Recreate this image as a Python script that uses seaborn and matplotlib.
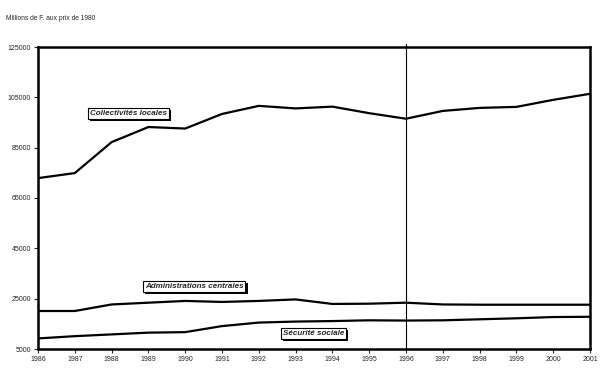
import pandas as pd
import matplotlib
matplotlib.use("Agg")
import matplotlib.pyplot as plt
import matplotlib.patheffects as pe
import seaborn as sns

YEARS = list(range(1986, 2002))
COLLECTIVITES = [72900, 74900, 87200, 93200, 92600, 98400, 101600, 100600,
                 101300, 98700, 96500, 99600, 100800, 101200, 104000, 106400]
ADMINISTRATIONS = [20100, 20100, 22700, 23400, 24100, 23700, 24100, 24700,
                   22900, 23000, 23400, 22700, 22600, 22600, 22600, 22600]
SECURITE = [9200, 10100, 10800, 11500, 11700, 14100, 15500, 15900,
            16100, 16400, 16300, 16400, 16800, 17200, 17700, 17800]
SERIES = ["Collectivités locales", "Administrations centrales", "Sécurité sociale"]
Y_TICKS = [5000, 25000, 45000, 65000, 85000, 105000, 125000]

sns.set_style("white")
plt.rcParams["font.family"] = ["Liberation Sans", "DejaVu Sans"]

df = pd.DataFrame({
    "year": YEARS * 3,
    "value": COLLECTIVITES + ADMINISTRATIONS + SECURITE,
    "serie": [s for s in SERIES for _ in YEARS],
})

fig = plt.figure(figsize=(6.04, 3.75), dpi=100)
ax = fig.add_axes([38 / 604, 1 - 349 / 375, 552 / 604, 302 / 375])

sns.lineplot(data=df, x="year", y="value", units="serie", estimator=None,
             color="black", linewidth=1.6, ax=ax, legend=False)

ax.set_xlim(1986, 2001)
ax.set_ylim(5000, 125000)
ax.set_xticks(YEARS)
ax.set_xticklabels([str(y) for y in YEARS], fontsize=5)
ax.set_yticks(Y_TICKS)
ax.set_yticklabels([str(v) for v in Y_TICKS], fontsize=5)
ax.tick_params(axis="both", direction="out", length=3, width=0.8, pad=2,
               bottom=True, left=True)
ax.set_xlabel("")
ax.set_ylabel("")
for sp in ax.spines.values():
    sp.set_visible(True)
    sp.set_color("black")
    sp.set_linewidth(1.8)

# vertical marker at 1996
ax.axvline(1996, ymin=0, ymax=1.01, color="black", linewidth=0.8, clip_on=False)

fig.text(6 / 604, 1 - 19 / 375, "Millions de F. aux prix de 1980", fontsize=4.8,
         va="center", ha="left")

# boxed series labels with a drop shadow
labels = [
    ("Collectivités locales", 1987.4, 98500),
    ("Administrations centrales", 1988.9, 29900),
    ("Sécurité sociale", 1992.65, 11200),
]
for txt, x, y in labels:
    t = ax.text(x, y, txt, fontsize=5.8, fontweight="bold", fontstyle="italic",
                va="center", ha="left",
                bbox=dict(boxstyle="square,pad=0.25", facecolor="white",
                          edgecolor="black", linewidth=0.8))
    t.get_bbox_patch().set_path_effects([
        pe.SimplePatchShadow(offset=(1.6, -1.6), shadow_rgbFace="black", alpha=1.0),
        pe.Normal(),
    ])

fig.savefig("out.png", dpi=100)
